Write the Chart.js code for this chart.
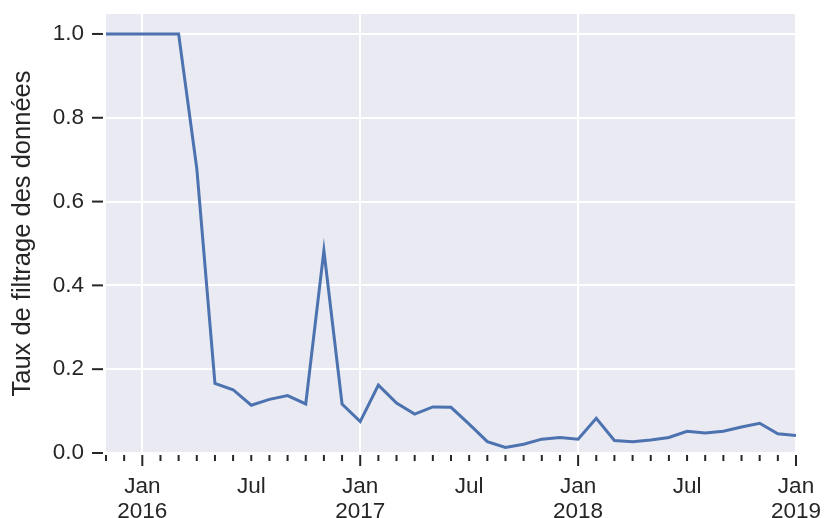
<!DOCTYPE html>
<html>
<head>
<meta charset="utf-8">
<style>
  html, body { margin: 0; padding: 0; background: #fff; }
  #wrap { width: 827px; height: 518px; }
</style>
</head>
<body>
<div id="wrap"><canvas id="chart" width="827" height="518"></canvas></div>
<script src="https://cdn.jsdelivr.net/npm/chart.js@4.4.1/dist/chart.umd.min.js"></script>
<script>
  // monthly values, Nov 2015 -> Jan 2019
  const startYear = 2015;
  const startMonth = 10; // 0 = Jan, so 10 = Nov
  const monthNames = ["Jan", "Feb", "Mar", "Apr", "May", "Jun", "Jul", "Aug", "Sep", "Oct", "Nov", "Dec"];
  const filterRate = [
    1.0, 1.0, 1.0, 1.0, 1.0, 0.679, 0.166, 0.151, 0.114, 0.128,
    0.137, 0.117, 0.483, 0.117, 0.075, 0.162, 0.119, 0.093, 0.110, 0.109,
    0.069, 0.027, 0.013, 0.021, 0.033, 0.037, 0.033, 0.083, 0.030, 0.027,
    0.031, 0.037, 0.052, 0.048, 0.052, 0.062, 0.071, 0.046, 0.042
  ];
  const yTicks = [0, 0.2, 0.4, 0.6, 0.8, 1.0];

  const monthOf = (i) => (startMonth + i) % 12;
  const yearOf = (i) => startYear + Math.floor((startMonth + i) / 12);

  const ink = '#262626';
  const font = 'Liberation Sans, Arial, sans-serif';

  const axisDecor = {
    id: 'axisDecor',
    beforeDraw(chart) {
      const { ctx, chartArea: a } = chart;
      ctx.save();
      ctx.fillStyle = '#EAEAF2';
      ctx.fillRect(a.left, a.top, a.right - a.left, a.bottom - a.top);
      ctx.restore();
    },
    afterDraw(chart) {
      const { ctx, chartArea: a, scales } = chart;
      ctx.save();
      ctx.strokeStyle = ink;
      ctx.lineWidth = 2;
      // month ticks on x
      scales.x.ticks.forEach((t) => {
        const x = scales.x.getPixelForValue(t.value);
        const len = monthOf(t.value) === 0 ? 11 : 6;
        ctx.beginPath();
        ctx.moveTo(x, a.bottom + 2);
        ctx.lineTo(x, a.bottom + 2 + len);
        ctx.stroke();
      });
      // value ticks on y
      scales.y.ticks.forEach((t) => {
        const y = scales.y.getPixelForValue(t.value);
        ctx.beginPath();
        ctx.moveTo(a.left - 3, y);
        ctx.lineTo(a.left - 14, y);
        ctx.stroke();
      });
      ctx.restore();
    }
  };

  new Chart(document.getElementById('chart'), {
    type: 'line',
    data: {
      datasets: [{
        data: filterRate.map((v, i) => ({ x: i, y: v })),
        borderColor: '#4C72B0',
        borderWidth: 3,
        pointRadius: 0,
        tension: 0,
        fill: false
      }]
    },
    options: {
      responsive: false,
      animation: false,
      layout: { padding: { top: 14, right: 31, left: 0, bottom: 0 } },
      plugins: { legend: { display: false }, tooltip: { enabled: false } },
      scales: {
        x: {
          type: 'linear',
          min: 0,
          max: filterRate.length - 1,
          afterFit: (s) => {
            s.height = 65;
            s.paddingLeft = 0;
            s.paddingRight = 0;
          },
          afterBuildTicks: (s) => {
            s.ticks = filterRate.map((v, i) => ({ value: i }));
          },
          border: { display: false },
          grid: {
            drawTicks: false,
            lineWidth: 2,
            color: (c) => (c.tick && monthOf(c.tick.value) === 0 ? '#ffffff' : 'rgba(0,0,0,0)')
          },
          ticks: {
            autoSkip: false,
            maxRotation: 0,
            padding: 22,
            color: ink,
            font: { family: font, size: 22.5, lineHeight: 1.08 },
            callback: (v) => {
              const m = monthOf(v);
              if (m === 0) return [monthNames[m], String(yearOf(v))];
              if (m === 6) return monthNames[m];
              return '';
            }
          }
        },
        y: {
          min: 0,
          max: 1.0476,
          afterFit: (s) => {
            s.width = 106;
            s.paddingTop = 0;
            s.paddingBottom = 0;
          },
          afterBuildTicks: (s) => {
            s.ticks = yTicks.map((v) => ({ value: v }));
          },
          border: { display: false },
          grid: { drawTicks: false, color: '#ffffff', lineWidth: 2 },
          ticks: {
            padding: 22,
            color: ink,
            font: { family: font, size: 22.5 },
            callback: (v) => v.toFixed(1)
          },
          title: {
            display: true,
            text: 'Taux de filtrage des données',
            color: ink,
            font: { family: font, size: 25.5 },
            padding: { top: 8, bottom: 0 }
          }
        }
      }
    },
    plugins: [axisDecor]
  });
</script>
</body>
</html>
